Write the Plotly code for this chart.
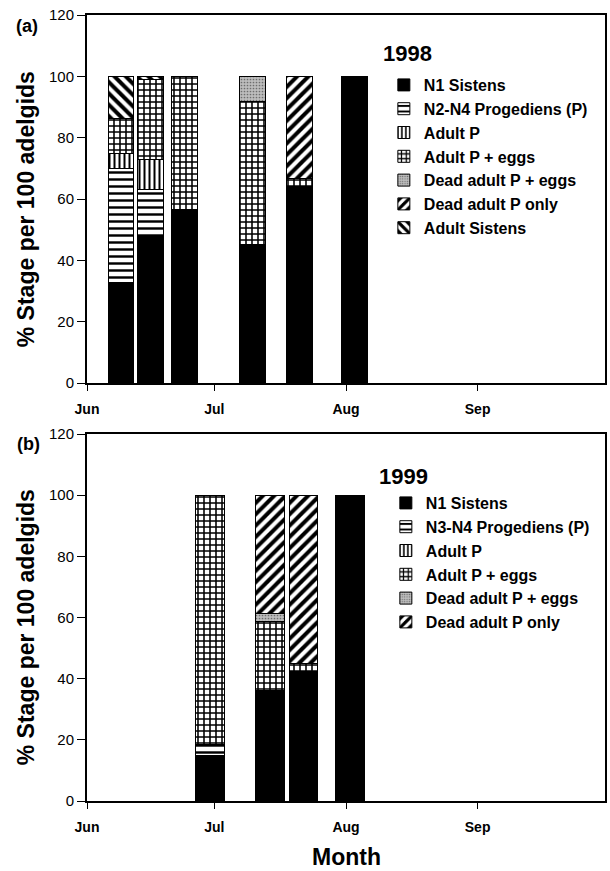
import plotly.graph_objects as go

# ---------------- data ----------------
dates_1998 = ["1998-06-09", "1998-06-16", "1998-06-24", "1998-07-10", "1998-07-21", "1998-08-03"]
n1_sistens_1998 = [32.9, 48.0, 56.6, 45.3, 64.0, 100.0]
n2n4_prog_1998 = [37.1, 15.1, 0.0, 0.0, 0.0, 0.0]
adult_p_1998 = [4.9, 9.8, 0.0, 0.0, 0.0, 0.0]
adult_p_eggs_1998 = [11.2, 26.2, 43.4, 46.4, 2.8, 0.0]
dead_p_eggs_1998 = [0.0, 0.0, 0.0, 8.2, 0.0, 0.0]
dead_p_only_1998 = [0.0, 0.0, 0.0, 0.0, 33.1, 0.0]
adult_sistens_1998 = [13.9, 0.9, 0.0, 0.0, 0.0, 0.0]

dates_1999 = ["1999-06-30", "1999-07-14", "1999-07-22", "1999-08-02"]
n1_sistens_1999 = [14.9, 36.2, 42.3, 100.0]
n3n4_prog_1999 = [3.6, 0.0, 0.0, 0.0]
adult_p_1999 = [0.0, 0.0, 0.0, 0.0]
adult_p_eggs_1999 = [81.5, 22.4, 2.7, 0.0]
dead_p_eggs_1999 = [0.0, 2.7, 0.0, 0.0]
dead_p_only_1999 = [0.0, 38.7, 55.0, 0.0]

month_ticks_1998 = ["1998-06-01", "1998-07-01", "1998-08-01", "1998-09-01"]
month_ticks_1999 = ["1999-06-01", "1999-07-01", "1999-08-01", "1999-09-01"]
month_labels = ["Jun", "Jul", "Aug", "Sep"]
y_ticks = [0, 20, 40, 60, 80, 100, 120]

# ---------------- layout helpers ----------------
W, H = 610, 871
ML, MR, MT, MB = 87, 3, 15, 70
PW, PH = W - ML - MR, H - MT - MB
FONT = "Liberation Sans, Arial, sans-serif"
DAY = 86400000


def px_x(px):
    return (px - ML) / PW


def px_y(py):
    return (H - MB - py) / PH


STYLES = {
    "n1": dict(color="black", pattern=None),
    "prog": dict(color="white", pattern=dict(shape="-", size=7, solidity=0.35)),
    "adp": dict(color="white", pattern=dict(shape="|", size=5, solidity=0.4)),
    "adpe": dict(color="white", pattern=dict(shape="+", size=6, solidity=0.45)),
    "deade": dict(color="#b4b4b4", pattern=dict(shape=".", size=3, solidity=0.25, fgcolor="#6e6e6e", bgcolor="#bdbdbd")),
    "deadp": dict(color="white", pattern=dict(shape="/", size=8, solidity=0.5)),
    "sist": dict(color="white", pattern=dict(shape="\\", size=8, solidity=0.5)),
}


def marker(key):
    st = STYLES[key]
    m = dict(color=st["color"], line=dict(color="black", width=1))
    if st["pattern"] is not None:
        p = dict(fgcolor="black", bgcolor="white", fillmode="replace")
        p.update(st["pattern"])
        m["pattern"] = p
    return m


fig = go.Figure()

series_1998 = [
    ("N1 Sistens", n1_sistens_1998, "n1"),
    ("N2-N4 Progediens (P)", n2n4_prog_1998, "prog"),
    ("Adult P", adult_p_1998, "adp"),
    ("Adult P + eggs", adult_p_eggs_1998, "adpe"),
    ("Dead adult P + eggs", dead_p_eggs_1998, "deade"),
    ("Dead adult P only", dead_p_only_1998, "deadp"),
    ("Adult Sistens", adult_sistens_1998, "sist"),
]
for name, vals, key in series_1998:
    fig.add_trace(go.Bar(
        x=dates_1998, y=vals, name=name, marker=marker(key),
        width=[6 * DAY] * len(dates_1998),
        xaxis="x", yaxis="y", legend="legend",
    ))

series_1999 = [
    ("N1 Sistens", n1_sistens_1999, "n1"),
    ("N3-N4 Progediens (P)", n3n4_prog_1999, "prog"),
    ("Adult P", adult_p_1999, "adp"),
    ("Adult P + eggs", adult_p_eggs_1999, "adpe"),
    ("Dead adult P + eggs", dead_p_eggs_1999, "deade"),
    ("Dead adult P only", dead_p_only_1999, "deadp"),
]
for name, vals, key in series_1999:
    fig.add_trace(go.Bar(
        x=dates_1999, y=vals, name=name, marker=marker(key),
        width=[6.8 * DAY] * len(dates_1999),
        xaxis="x2", yaxis="y2", legend="legend2",
    ))

xaxis_common = dict(
    type="date", showline=True, linecolor="black", linewidth=2, mirror=True,
    ticks="outside", ticklen=6, tickwidth=1, tickcolor="black",
    showgrid=False, zeroline=False, ticklabelstandoff=6,
    tickfont=dict(family=FONT, size=14, color="black", weight="bold"),
)
yaxis_common = dict(
    range=[0, 120], tickvals=y_ticks, showline=True, linecolor="black", linewidth=2,
    mirror=True, ticks="outside", ticklen=8, tickwidth=1, tickcolor="black",
    showgrid=False, zeroline=False,
    tickfont=dict(family=FONT, size=15, color="black"),
)

legend_common = dict(
    xanchor="left", yanchor="top", bgcolor="rgba(0,0,0,0)", borderwidth=0,
    traceorder="normal", font=dict(family=FONT, size=16, color="black", weight="bold"),
)

fig.update_layout(
    width=W, height=H, margin=dict(l=ML, r=MR, t=MT, b=MB),
    paper_bgcolor="white", plot_bgcolor="white", barmode="stack",
    font=dict(family=FONT, color="black"),
    xaxis=dict(xaxis_common, domain=[0, 1], anchor="y",
               range=["1998-06-01", "1998-10-01"], tickvals=month_ticks_1998, ticktext=month_labels),
    yaxis=dict(yaxis_common, domain=[px_y(383), 1], anchor="x"),
    xaxis2=dict(xaxis_common, domain=[0, 1], anchor="y2",
                range=["1999-06-01", "1999-10-01"], tickvals=month_ticks_1999, ticktext=month_labels),
    yaxis2=dict(yaxis_common, domain=[0, px_y(434)], anchor="x2"),
    legend=dict(legend_common, x=px_x(385), y=px_y(68)),
    legend2=dict(legend_common, x=px_x(387), y=px_y(486)),
    showlegend=True,
)

ytitle = "% Stage per 100 adelgids"
annots = [
    dict(text="(a)", x=px_x(27), y=px_y(26), size=18),
    dict(text="(b)", x=px_x(28), y=px_y(444), size=18),
    dict(text="1998", x=px_x(409), y=px_y(53), size=22),
    dict(text="1999", x=px_x(405), y=px_y(476), size=22),
    dict(text="Month", x=px_x(347), y=px_y(857), size=23),
]
for a in annots:
    fig.add_annotation(text=a["text"], x=a["x"], y=a["y"], xref="paper", yref="paper",
                       showarrow=False, xanchor="center", yanchor="middle",
                       font=dict(family=FONT, size=a["size"], color="black", weight="bold"))
for yc in (209, 627):
    fig.add_annotation(text=ytitle, x=px_x(26), y=px_y(yc), xref="paper", yref="paper",
                       showarrow=False, textangle=-90, xanchor="center", yanchor="middle",
                       font=dict(family=FONT, size=23, color="black", weight="bold"))

fig.write_html("out.html")
